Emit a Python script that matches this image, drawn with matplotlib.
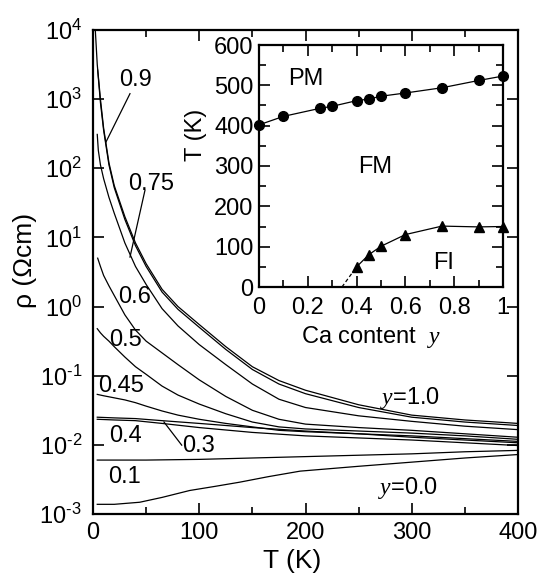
import matplotlib
matplotlib.use("Agg")
import matplotlib.pyplot as plt
import numpy as np
from matplotlib.ticker import FuncFormatter, MultipleLocator, NullLocator

plt.rcParams["font.family"] = ["Liberation Sans", "DejaVu Sans"]
plt.rcParams["mathtext.fontset"] = "custom"
plt.rcParams["mathtext.rm"] = "Liberation Sans"
plt.rcParams["mathtext.it"] = "Liberation Serif:italic"
plt.rcParams["axes.unicode_minus"] = False

# main panel: T (K) and log10(rho / Ohm cm)
T_Y10 = [1.8, 4, 7, 10, 15, 20, 30, 40, 50, 65, 80, 100, 125, 150, 175, 200, 250, 300, 350, 400]
LOG_Y10 = [4.1, 3.5, 3.0, 2.58, 2.08, 1.75, 1.3, 0.92, 0.62, 0.25, 0.0, -0.26, -0.58, -0.87,
           -1.07, -1.21, -1.42, -1.57, -1.64, -1.69]
T_Y09 = [4.4, 7, 10, 15, 20, 30, 40, 50, 65, 80, 100, 125, 150, 175, 200, 250, 300, 350, 400]
LOG_Y09 = [3.42, 2.95, 2.55, 2.05, 1.72, 1.26, 0.88, 0.58, 0.21, -0.04, -0.30, -0.62, -0.91,
           -1.12, -1.26, -1.46, -1.60, -1.67, -1.72]
T_Y075 = [4, 5, 7, 10, 15, 20, 30, 40, 50, 65, 80, 100, 125, 150, 175, 200, 250, 300, 350, 400]
LOG_Y075 = [2.49, 2.26, 2.05, 1.85, 1.58, 1.35, 0.92, 0.58, 0.32, -0.03, -0.28, -0.55, -0.84,
            -1.12, -1.34, -1.46, -1.58, -1.66, -1.73, -1.78]
T_Y06 = [4.4, 7, 10, 15, 20, 30, 40, 50, 65, 80, 100, 125, 150, 175, 200, 250, 300, 350, 400]
LOG_Y06 = [0.70, 0.58, 0.45, 0.30, 0.16, -0.12, -0.34, -0.50, -0.67, -0.84, -1.06, -1.30,
           -1.50, -1.63, -1.70, -1.75, -1.79, -1.84, -1.89]
T_Y05 = [4, 7, 10, 15, 20, 30, 40, 50, 65, 80, 100, 125, 150, 175, 200, 250, 300, 350, 400]
LOG_Y05 = [-0.32, -0.38, -0.43, -0.50, -0.58, -0.73, -0.87, -0.98, -1.15, -1.28, -1.41, -1.55,
           -1.67, -1.74, -1.77, -1.80, -1.83, -1.87, -1.92]
T_Y045 = [4, 10, 20, 30, 40, 50, 65, 80, 100, 125, 150, 175, 200, 250, 300, 350, 400]
LOG_Y045 = [-1.27, -1.29, -1.32, -1.35, -1.39, -1.44, -1.51, -1.57, -1.63, -1.69, -1.74,
            -1.79, -1.81, -1.84, -1.87, -1.91, -1.95]
T_Y04 = [4, 20, 40, 65, 100, 150, 200, 250, 300, 350, 400]
LOG_Y04 = [-1.60, -1.61, -1.62, -1.65, -1.69, -1.75, -1.80, -1.84, -1.89, -1.93, -1.97]
T_Y03 = [4, 20, 40, 65, 100, 150, 200, 250, 300, 350, 400]
LOG_Y03 = [-1.63, -1.64, -1.65, -1.69, -1.75, -1.82, -1.87, -1.90, -1.93, -1.97, -2.01]
T_Y01 = [4, 50, 100, 150, 200, 250, 300, 350, 400]
LOG_Y01 = [-2.22, -2.22, -2.21, -2.19, -2.17, -2.15, -2.13, -2.10, -2.08]
T_Y00 = [4, 20, 44, 65, 91, 115, 138, 165, 195, 250, 300, 350, 400]
LOG_Y00 = [-2.86, -2.86, -2.83, -2.76, -2.66, -2.60, -2.54, -2.46, -2.38, -2.31, -2.25,
           -2.19, -2.14]

CURVES = [(T_Y10, LOG_Y10), (T_Y09, LOG_Y09), (T_Y075, LOG_Y075), (T_Y06, LOG_Y06),
          (T_Y05, LOG_Y05), (T_Y045, LOG_Y045), (T_Y04, LOG_Y04), (T_Y03, LOG_Y03),
          (T_Y01, LOG_Y01), (T_Y00, LOG_Y00)]
RHO_DECADES = [1e-3, 1e-2, 1e-1, 1e0, 1e1, 1e2, 1e3, 1e4]

# inset: phase diagram
CA_TC = [0, 0.1, 0.25, 0.3, 0.4, 0.45, 0.5, 0.6, 0.75, 0.9, 1.0]
TC = [402, 423, 443, 448, 462, 466, 473, 481, 494, 512, 523]
CA_TFI = [0.4, 0.45, 0.5, 0.6, 0.75, 0.9, 1.0]
TFI = [50, 80, 101, 130, 151, 149, 150]
CA_FI_DASH = [0.34, 0.4]
T_FI_DASH = [0, 50]

FS = 17


def decade_label(value, pos):
    exp = int(round(np.log10(value)))
    if exp < 0:
        return rf"$\mathdefault{{10^{{\text{{-}}{-exp}}}}}$"
    return rf"$\mathdefault{{10^{{{exp}}}}}$"


fig = plt.figure(figsize=(5.39, 5.76), dpi=100)
ax = fig.add_axes([93 / 539, 1 - 514 / 576, 425 / 539, 484 / 576])
for temps, logs in CURVES:
    ax.plot(temps, 10.0 ** np.asarray(logs), color="black", lw=0.9)
ax.set_yscale("log")
ax.set_xlim(0, 400)
ax.set_ylim(1e-3, 1e4)
ax.xaxis.set_major_locator(MultipleLocator(100))
ax.xaxis.set_minor_locator(MultipleLocator(50))
ax.set_yticks(RHO_DECADES)
ax.yaxis.set_minor_locator(NullLocator())
ax.yaxis.set_major_formatter(FuncFormatter(decade_label))
ax.tick_params(which="both", direction="in", top=True, right=True, width=1.2,
               labelsize=FS)
ax.tick_params(which="major", length=8)
ax.tick_params(which="minor", length=5)
ax.tick_params(axis="y", pad=8)
ax.tick_params(axis="x", pad=6)
for spine in ax.spines.values():
    spine.set_linewidth(1.6)

# curve labels
labels = [("0.9", 40, 1.9e3), ("0.75", 54.6, 59), ("0.6", 39.5, 1.37), ("0.5", 31, 0.327),
          ("0.45", 26.4, 0.0705), ("0.4", 31, 0.0133), ("0.1", 30.1, 3.4e-3)]
for text, tx, ty in labels:
    ax.text(tx, ty, text, fontsize=FS, ha="center", va="center")
ax.text(84, 9.55e-3, "0.3", fontsize=FS, ha="left", va="center")
ax.text(298, 0.0472, "$y$=1.0", fontsize=FS, ha="center", va="center")
ax.text(297, 2.35e-3, "$y$=0.0", fontsize=FS, ha="center", va="center")
ax.plot([34.8, 12.2], [1.2e3, 240], color="black", lw=0.9)
ax.plot([48.9, 34.8], [48, 5.2], color="black", lw=0.9)
ax.plot([66.8, 83.5], [0.0214, 9.9e-3], color="black", lw=0.9)

fig.text(25 / 539, 1 - 260 / 576, "ρ (Ωcm)", rotation=90, ha="center", va="center",
         fontsize=19)
fig.text(292 / 539, 1 - 561 / 576, "T (K)", ha="center", va="center", fontsize=19)

# inset
ins = fig.add_axes([259 / 539, 1 - 287 / 576, 244 / 539, 242 / 576])
ins.set_facecolor("white")
ins.plot(CA_TC, TC, color="black", lw=0.9, marker="o", ms=7, clip_on=False, zorder=3)
ins.plot(CA_TFI, TFI, color="black", lw=0.9, marker="^", ms=7.5, clip_on=False, zorder=3)
ins.plot(CA_FI_DASH, T_FI_DASH, color="black", lw=0.9, ls=(0, (3, 2)))
ins.set_xlim(0, 1)
ins.set_ylim(0, 600)
ins.xaxis.set_major_locator(MultipleLocator(0.2))
ins.xaxis.set_minor_locator(MultipleLocator(0.1))
ins.yaxis.set_major_locator(MultipleLocator(100))
ins.yaxis.set_minor_locator(MultipleLocator(50))
ins.xaxis.set_major_formatter(FuncFormatter(lambda v, p: f"{v:g}"))
ins.tick_params(which="both", direction="in", top=True, right=True, width=1.2,
                labelsize=FS)
ins.tick_params(which="major", length=8)
ins.tick_params(which="minor", length=5)
ins.tick_params(axis="y", pad=4)
ins.tick_params(axis="x", pad=7)
for spine in ins.spines.values():
    spine.set_linewidth(1.6)
ins.text(0.19, 516, "PM", fontsize=FS, ha="center", va="center")
ins.text(0.475, 298, "FM", fontsize=FS, ha="center", va="center")
ins.text(0.755, 60, "FI", fontsize=FS, ha="center", va="center")
fig.text(371 / 539, 1 - 337 / 576, "Ca content  $y$", ha="center", va="center",
         fontsize=FS)
fig.text(196 / 539, 1 - 135 / 576, "T (K)", rotation=90, ha="center", va="center",
         fontsize=FS)

fig.savefig("out.png", dpi=100)
